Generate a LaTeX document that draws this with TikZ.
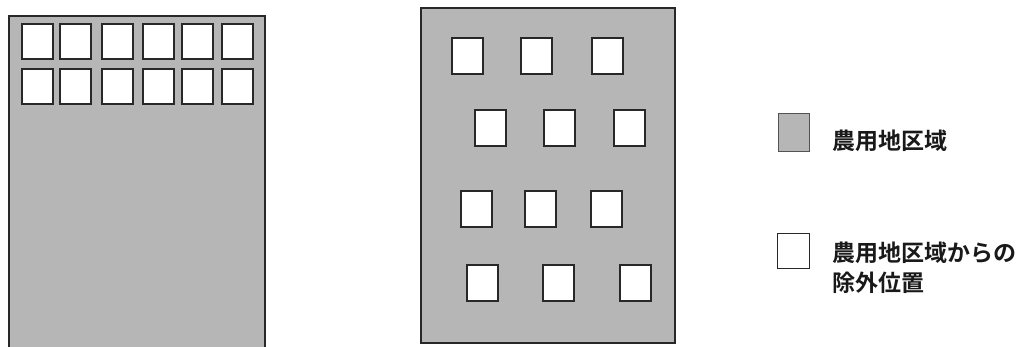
\documentclass[tikz,border=0pt]{standalone}
\usepackage{fontspec}
\newfontfamily\jp{Noto Sans CJK JP}[UprightFont=* Medium,BoldFont=* Bold]
\definecolor{field}{RGB}{182,182,182}
\definecolor{edge}{RGB}{40,40,40}
\begin{document}
\begin{tikzpicture}[x=1pt,y=-1pt,
  area/.style={draw=edge,line width=1.8pt,fill=field,inner sep=0pt,anchor=north west},
  plot/.style={draw=edge,line width=1.8pt,fill=white,inner sep=0pt,anchor=north west,minimum width=31pt,minimum height=35pt},
  label/.style={anchor=west,inner sep=0pt,font=\jp\bfseries\fontsize{23}{30}\selectfont,text=black!90,align=left}]
\useasboundingbox (0,0) rectangle (1019,347);
% left area
\node[area,minimum width=256pt,minimum height=340pt] (A) at (8,15) {};
\foreach \x [count=\i] in {21,59,101,142,181,221}{
  \node[plot] (a1\i) at (\x,23) {};
  \node[plot] (a2\i) at (\x,68) {};
}
% right area
\node[area,minimum width=254pt,minimum height=335pt] (B) at (420,7) {};
\foreach \x [count=\i] in {451,520,591}{\node[plot,minimum height=36pt] (b1\i) at (\x,37) {};}
\foreach \x [count=\i] in {474,543,613}{\node[plot,minimum height=36pt] (b2\i) at (\x,109) {};}
\foreach \x [count=\i] in {460,524,590}{\node[plot,minimum height=36pt] (b3\i) at (\x,190) {};}
\foreach \x [count=\i] in {466,542,619}{\node[plot,minimum height=36pt] (b4\i) at (\x,264) {};}
% legend
\node[area,draw=edge!80,line width=1.2pt,minimum width=31pt,minimum height=38pt] (L1) at (778,113) {};
\node[plot,line width=1.4pt,minimum width=32pt,minimum height=35pt] (L2) at (777,233) {};
\node[label] (t1) at (832,141) {農用地区域};
\node[label] (t2) at (832,268) {農用地区域からの\\除外位置};
\end{tikzpicture}
\end{document}
